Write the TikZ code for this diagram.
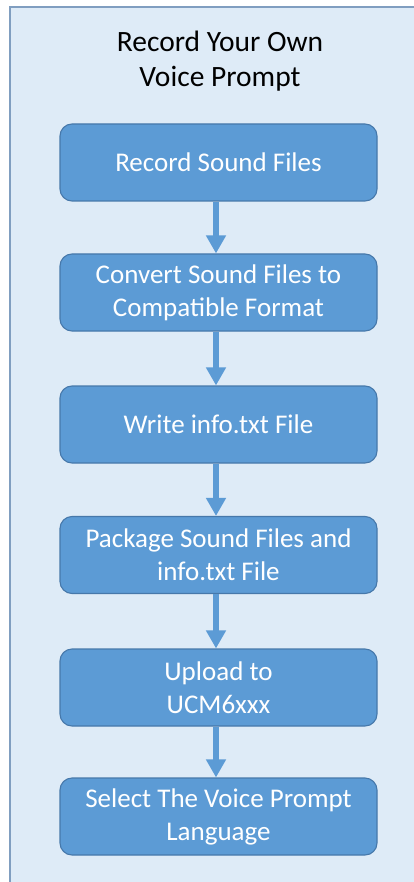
\documentclass[tikz,border=0pt]{standalone}
\usepackage{fontspec}
\setmainfont{Carlito}
\usetikzlibrary{arrows.meta}
\definecolor{bgfill}{RGB}{222,235,247}
\definecolor{frameline}{RGB}{128,158,192}
\definecolor{boxfill}{RGB}{92,155,213}
\definecolor{boxline}{RGB}{70,120,170}
\tikzset{
  stepbox/.style={draw=boxline, line width=1.1pt, fill=boxfill, rounded corners=12pt,
    minimum width=317pt, minimum height=77pt, inner sep=0pt, align=center,
    text=white, font=\fontsize{27}{33}\selectfont},
  flowarrow/.style={draw=boxfill, line width=6.5pt,
    -{Triangle[width=19pt,length=18pt]}, shorten >=0pt},
  titletext/.style={align=center, font=\fontsize{29.5}{35}\selectfont, text=black, inner sep=0pt}
}
\begin{document}
\begin{tikzpicture}[x=1pt,y=1pt]
\useasboundingbox (0,0) rectangle (414,-882);
\clip (0,0) rectangle (414,-882);
\fill[white] (0,0) rectangle (414,-882);
\draw[frameline, fill=bgfill, line width=1.5pt] (10,-7) rectangle (430,-900);
\node[titletext] (title) at (220,-61) {Record Your Own\\Voice Prompt};
\node[stepbox] (b1) at (218.5,-162.5) {Record Sound Files};
\node[stepbox] (b2) at (218.5,-292.5) {Convert Sound Files to\\Compatible Format};
\node[stepbox] (b3) at (218.5,-424.5) {Write info.txt File};
\node[stepbox] (b4) at (218.5,-555) {Package Sound Files and\\info.txt File};
\node[stepbox] (b5) at (218.5,-687.5) {Upload to\\UCM6xxx};
\node[stepbox] (b6) at (218.5,-816.5) {Select The Voice Prompt\\Language};
\draw[flowarrow] (b1.south -| 216,0) -- (b2.north -| 216,0);
\draw[flowarrow] (b2.south -| 216,0) -- (b3.north -| 216,0);
\draw[flowarrow] (b3.south -| 216,0) -- (b4.north -| 216,0);
\draw[flowarrow] (b4.south -| 216,0) -- (b5.north -| 216,0);
\draw[flowarrow] (b5.south -| 216,0) -- (b6.north -| 216,0);
\end{tikzpicture}
\end{document}
